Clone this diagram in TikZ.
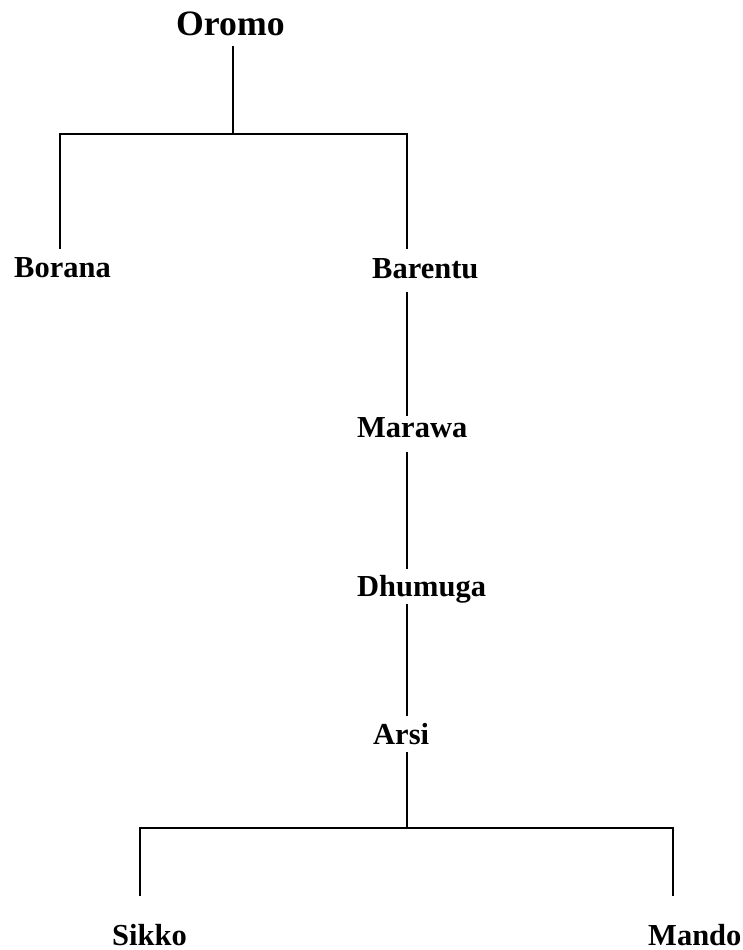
\documentclass[tikz,border=0pt]{standalone}
\usepackage{fontspec}
\setmainfont{Liberation Serif}
\begin{document}
\begin{tikzpicture}[x=1pt,y=-1pt,
  lbl/.style={anchor=base west,inner sep=0pt,font=\bfseries\fontsize{30.5}{36}\selectfont},
  big/.style={anchor=base west,inner sep=0pt,font=\bfseries\fontsize{35.7}{42}\selectfont},
  edge/.style={line width=1.6pt,line cap=rect}]
\useasboundingbox (0,0) rectangle (743,950);
% labels
\node[big] (oromo) at (176,36) {Oromo};
\node[lbl] (borana) at (14,277) {Borana};
\node[lbl] (barentu) at (372,278) {Barentu};
\node[lbl] (marawa) at (357,437) {Marawa};
\node[lbl] (dhumuga) at (357,596) {Dhumuga};
\node[lbl] (arsi) at (373,744) {Arsi};
\node[lbl] (sikko) at (112,945) {Sikko};
\node[lbl] (mando) at (648,945) {Mando};
% junction points
\coordinate (o1) at (233,47);
\coordinate (j1) at (233,134);
\coordinate (l1) at (60,134);
\coordinate (r1) at (407,134);
\coordinate (bo) at (60,248);
\coordinate (ba) at (407,248);
\coordinate (ba2) at (407,293);
\coordinate (ma1) at (407,415);
\coordinate (ma2) at (407,453);
\coordinate (dh1) at (407,568);
\coordinate (dh2) at (407,605);
\coordinate (ar1) at (407,715);
\coordinate (ar2) at (407,753);
\coordinate (j2) at (407,828);
\coordinate (l2) at (140,828);
\coordinate (r2) at (673,828);
\coordinate (si) at (140,895);
\coordinate (mo) at (673,895);
% connectors
\draw[edge] (o1) -- (j1);
\draw[edge] (bo) -- (l1) -- (r1) -- (ba);
\draw[edge] (ba2) -- (ma1);
\draw[edge] (ma2) -- (dh1);
\draw[edge] (dh2) -- (ar1);
\draw[edge] (ar2) -- (j2);
\draw[edge] (si) -- (l2) -- (r2) -- (mo);
\end{tikzpicture}
\end{document}
